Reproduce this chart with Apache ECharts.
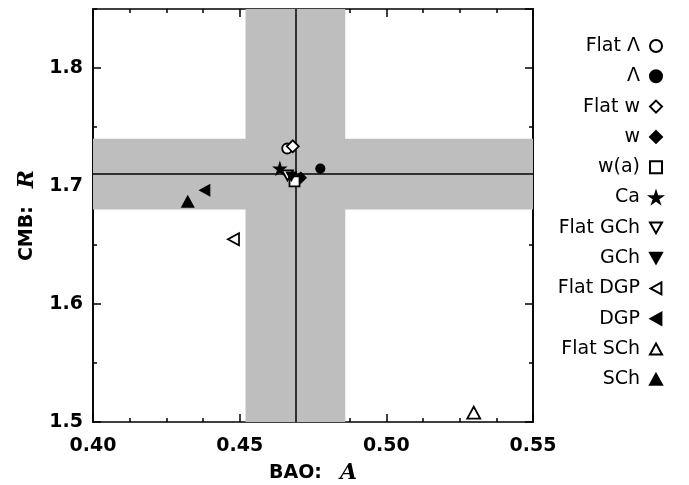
<!DOCTYPE html>
<html>
<head>
<meta charset="utf-8">
<script src="https://cdn.jsdelivr.net/npm/echarts@6/dist/echarts.min.js"></script>
<style>html,body{margin:0;padding:0;background:#fff}#c{width:689px;height:485px}</style>
</head>
<body>
<div id="c"></div>
<script>
// ---- data ----
var modelNames = ['Flat Λ', 'Λ', 'Flat w', 'w', 'w(a)', 'Ca', 'Flat GCh', 'GCh', 'Flat DGP', 'DGP', 'Flat SCh', 'SCh'];
var baoA = [0.4662, 0.4775, 0.4681, 0.4708, 0.4687, 0.4637, 0.4663, 0.4676, 0.4479, 0.4381, 0.5298, 0.4323];
var cmbR = [1.7318, 1.7148, 1.7336, 1.7070, 1.7040, 1.7148, 1.7090, 1.7080, 1.6549, 1.6964, 1.5080, 1.6868];
var filled = [false, true, false, true, false, true, false, true, false, true, false, true];
var obsA = 0.469, obsAErr = 0.017;
var obsR = 1.71, obsRErr = 0.03;
var xTicks = [0.40, 0.45, 0.50, 0.55];
var yTicks = [1.5, 1.6, 1.7, 1.8];

// ---- symbols (style only) ----
var STAR = 'path://M50,0 L61,35 L98,35 L68,57 L79,91 L50,70 L21,91 L32,57 L2,35 L39,35 Z';
var DOWN = 'path://M0,0 L100,0 L50,90 Z';
var LEFT = 'path://M90,0 L90,100 L0,50 Z';
var UP = 'path://M50,0 L100,90 L0,90 Z';
var symbols = ['circle', 'circle', 'diamond', 'diamond', 'rect', STAR, DOWN, DOWN, LEFT, LEFT, UP, UP];
var sizes = [[10,10],[9,9],[12,12],[11,11],[10,10],[12,12],[11,10],[10,9],[11,12],[10,11],[13,12],[12,11]];

var series = [];
// bands & lines
series.push({
  type: 'scatter', data: [], z: 1, silent: true,
  markArea: {
    silent: true,
    itemStyle: { color: '#bebebe', opacity: 1 },
    data: [
      [{ xAxis: obsA - obsAErr }, { xAxis: obsA + obsAErr }],
      [{ yAxis: obsR - obsRErr }, { yAxis: obsR + obsRErr }]
    ]
  },
  markLine: {
    silent: true, symbol: 'none', animation: false, precision: 5,
    label: { show: false },
    lineStyle: { color: '#000', width: 1.5, type: 'solid' },
    data: [{ xAxis: obsA }, { yAxis: obsR }]
  }
});
modelNames.forEach(function (n, i) {
  series.push({
    name: n, type: 'scatter', z: 5,
    symbol: symbols[i], symbolSize: sizes[i],
    itemStyle: filled[i] ? { color: '#000', borderColor: '#000', borderWidth: 1.2, opacity: 1 }
                         : { color: '#fff', borderColor: '#000', borderWidth: 1.8, opacity: 1 },
    data: [[baoA[i], cmbR[i]]]
  });
});

var axisLine = { show: true, onZero: false, lineStyle: { color: '#000', width: 1.6 } };
var labelFont = { color: '#000', fontFamily: 'DejaVu Sans', fontWeight: 'bold', fontSize: 19 };
var nameRich = {
  t: { fontFamily: 'DejaVu Sans', fontWeight: 'bold', fontSize: 19, color: '#000' },
  s: { fontSize: 19, width: 18 },
  i: { fontFamily: 'DejaVu Serif', fontStyle: 'italic', fontWeight: 'bold', fontSize: 22, color: '#000' }
};

var option = {
  animation: false,
  backgroundColor: '#fff',
  grid: { left: 93, right: 156, top: 9, bottom: 63, containLabel: false, outerBoundsMode: 'none' },
  legend: {
    orient: 'vertical', right: 21, top: 31, align: 'right',
    itemWidth: 12, itemHeight: 12, itemGap: 10.3,
    textStyle: { fontFamily: 'DejaVu Sans', fontSize: 19, color: '#000', lineHeight: 20, padding: [0, 5, 0, 0] },
    data: modelNames
  },
  xAxis: [{
    type: 'value', position: 'bottom', min: 0.40, max: 0.55, interval: 0.05,
    axisLine: axisLine,
    axisTick: { inside: true, length: 8, lineStyle: { color: '#000', width: 1.5 } },
    minorTick: { show: true, splitNumber: 4, length: 4, lineStyle: { color: '#000', width: 1.5 } },
    splitLine: { show: false },
    axisLabel: Object.assign({ margin: 15, formatter: function (v) { return v.toFixed(2); } }, labelFont),
    name: '{t|BAO:}{s|}{i|A}', nameLocation: 'middle', nameGap: 40,
    nameTextStyle: { rich: nameRich }
  }, {
    type: 'value', position: 'top', min: 0.40, max: 0.55, interval: 0.05,
    axisLine: axisLine,
    axisTick: { inside: true, length: 8, lineStyle: { color: '#000', width: 1.5 } },
    minorTick: { show: true, splitNumber: 4, length: 4, lineStyle: { color: '#000', width: 1.5 } },
    splitLine: { show: false }, axisLabel: { show: false }
  }],
  yAxis: [{
    type: 'value', position: 'left', min: 1.5, max: 1.85, interval: 0.1,
    axisLine: axisLine,
    axisTick: { inside: true, length: 8, lineStyle: { color: '#000', width: 1.5 } },
    splitLine: { show: false },
    axisLabel: Object.assign({ margin: 10, showMaxLabel: false, formatter: function (v) { return v.toFixed(1); } }, labelFont),
    name: '{t|CMB:}{s|}{i|R}', nameLocation: 'middle', nameGap: 54, nameRotate: 90,
    nameTextStyle: { rich: nameRich }
  }, {
    type: 'value', position: 'left', min: 1.5, max: 1.85, interval: 0.05,
    axisLine: axisLine,
    axisTick: { inside: true, length: 4, lineStyle: { color: '#000', width: 1.5 } },
    splitLine: { show: false }, axisLabel: { show: false }
  }, {
    type: 'value', position: 'right', min: 1.5, max: 1.85, interval: 0.1,
    axisLine: axisLine,
    axisTick: { inside: true, length: 8, lineStyle: { color: '#000', width: 1.5 } },
    splitLine: { show: false }, axisLabel: { show: false }
  }, {
    type: 'value', position: 'right', min: 1.5, max: 1.85, interval: 0.05,
    axisLine: axisLine,
    axisTick: { inside: true, length: 4, lineStyle: { color: '#000', width: 1.5 } },
    splitLine: { show: false }, axisLabel: { show: false }
  }],
  series: series
};
var chart = echarts.init(document.getElementById('c'), null, { renderer: 'canvas' });
chart.setOption(option);
</script>
</body>
</html>
